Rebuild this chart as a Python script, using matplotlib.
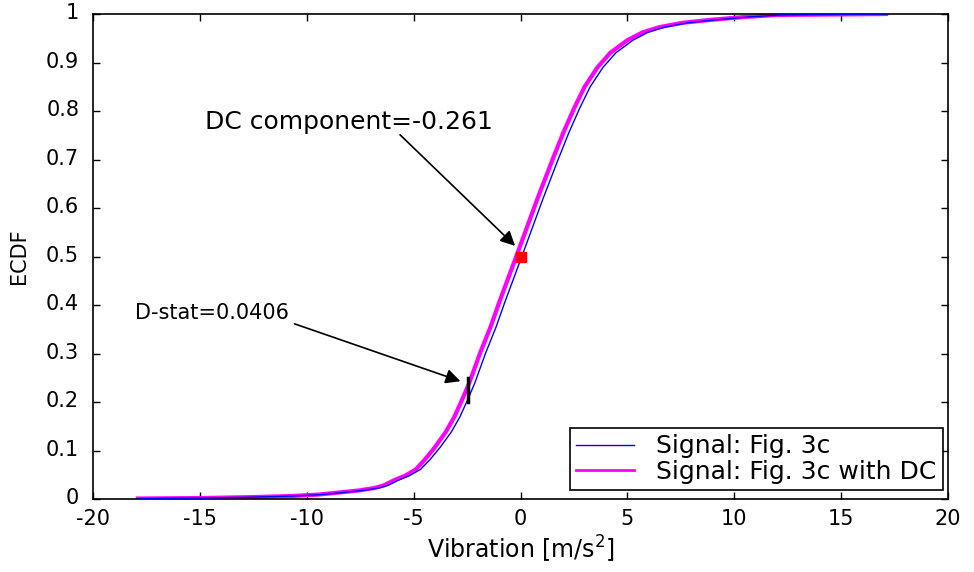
import matplotlib
matplotlib.use("Agg")
import matplotlib.pyplot as plt
from matplotlib.transforms import ScaledTranslation

# ECDF of signal with DC (magenta)
x_dc = [-17.9, -15.0, -12.5, -10.8, -9.5, -8.8, -7.5, -6.8, -6.4, -5.9, -5.4, -4.9,
        -4.5, -4.0, -3.5, -3.1, -2.75, -2.4, -1.9, -1.4, -1.0, -0.2, 0.3, 0.8,
        1.5, 2.0, 2.5, 3.0, 3.6, 4.2, 5.0, 5.7, 6.5, 7.6, 8.9, 10.5, 12.0, 17.1]
y_dc = [0.001, 0.002, 0.004, 0.006, 0.009, 0.012, 0.018, 0.023, 0.028, 0.039, 0.048, 0.061,
        0.080, 0.107, 0.138, 0.169, 0.203, 0.239, 0.300, 0.355, 0.405, 0.500, 0.560, 0.620,
        0.700, 0.755, 0.805, 0.850, 0.890, 0.920, 0.946, 0.962, 0.973, 0.982, 0.988, 0.994, 0.998, 1.0]
# ECDF of original signal (blue)
x_sig = [-17.8, -14.9, -12.4, -10.7, -9.35, -8.6, -7.3, -6.6, -6.2, -5.7, -5.2, -4.68,
         -4.26, -3.75, -3.24, -2.84, -2.49, -2.14, -1.64, -1.14, -0.74, 0.06, 0.56, 1.06,
         1.76, 2.26, 2.76, 3.26, 3.86, 4.46, 5.26, 5.95, 6.75, 7.85, 9.15, 10.7, 12.2, 17.2]
y_sig = [0.001, 0.002, 0.004, 0.006, 0.009, 0.012, 0.018, 0.023, 0.028, 0.039, 0.048, 0.061,
         0.080, 0.107, 0.138, 0.169, 0.203, 0.239, 0.300, 0.355, 0.405, 0.500, 0.560, 0.620,
         0.700, 0.755, 0.805, 0.850, 0.890, 0.920, 0.946, 0.962, 0.973, 0.982, 0.988, 0.994, 0.998, 1.0]

dc_point = (0.0, 0.5)
dstat_x = -2.46
dstat_y = (0.20, 0.25)

labels = ["Signal: Fig. 3c", "Signal: Fig. 3c with DC"]
xticks = [-20, -15, -10, -5, 0, 5, 10, 15, 20]
yticks = [0, 0.1, 0.2, 0.3, 0.4, 0.5, 0.6, 0.7, 0.8, 0.9, 1]
yticklabels = ["0", "0.1", "0.2", "0.3", "0.4", "0.5", "0.6", "0.7", "0.8", "0.9", "1"]

fig = plt.figure(figsize=(9.74, 5.72), dpi=100)
ax = fig.add_axes([0.0955, 0.1276, 0.8778, 0.8479])

l2, = ax.plot(x_dc, y_dc, color="#FF00FF", lw=3.0, zorder=2)
l1, = ax.plot(x_sig, y_sig, color="#0000FF", lw=1.0, zorder=3)
ax.plot([dc_point[0]], [dc_point[1]], marker="s", color="#FF0000", markersize=7, zorder=4)
ax.plot([dstat_x, dstat_x], list(dstat_y), color="black", lw=2.5, zorder=4)

ax.set_xlim(-20, 20)
ax.set_ylim(0, 1)
ax.set_xticks(xticks)
ax.set_xticklabels([str(t) for t in xticks])
ax.set_yticks(yticks)
ax.set_yticklabels(yticklabels)
ax.tick_params(direction="in", top=True, right=True, length=5, width=1, labelsize=15)
ax.tick_params(axis="y", pad=10)
ax.tick_params(axis="x", pad=7)
off = ScaledTranslation(0, 2 / 72, fig.dpi_scale_trans)
for lab in ax.get_yticklabels():
    lab.set_transform(lab.get_transform() + off)
for s in ax.spines.values():
    s.set_linewidth(1.2)

ax.set_xlabel("Vibration [m/s$^2$]", fontsize=17, labelpad=4)
ax.set_ylabel("ECDF", fontsize=15, labelpad=12)

ax.text(-14.76, 0.777, "DC component=-0.261", fontsize=18, ha="left", va="center")
ax.annotate("", xy=(-0.16, 0.518), xytext=(-5.73, 0.755),
            arrowprops=dict(arrowstyle="-|>", color="black", lw=1.2, mutation_scale=22))
ax.text(-18.04, 0.384, "D-stat=0.0406", fontsize=15, ha="left", va="center")
ax.annotate("", xy=(-2.69, 0.241), xytext=(-10.69, 0.363),
            arrowprops=dict(arrowstyle="-|>", color="black", lw=1.2, mutation_scale=22))

leg = ax.legend([l1, l2], labels, loc="lower right", bbox_to_anchor=(0.994, 0.0186),
                borderaxespad=0, fontsize=18, fancybox=False, framealpha=1,
                edgecolor="black", handlelength=2.3, labelspacing=0.05, borderpad=0.25,
                handletextpad=0.9)
leg.get_frame().set_linewidth(1.2)
leg.get_lines()[1].set_linewidth(2.0)

fig.savefig("out.png", dpi=100)
